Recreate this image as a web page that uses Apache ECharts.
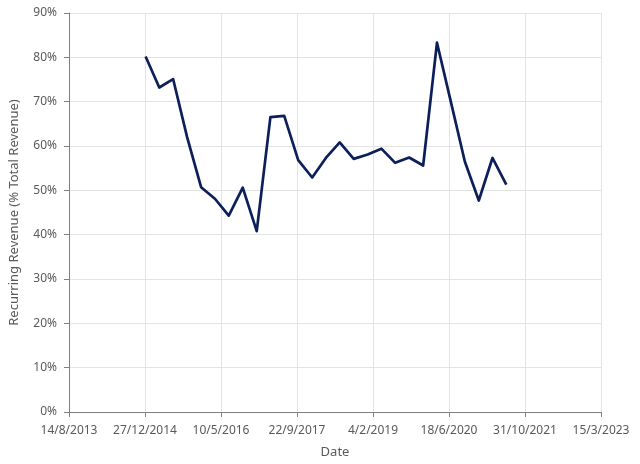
<!DOCTYPE html>
<html><head><meta charset="utf-8">
<script src="https://cdn.jsdelivr.net/npm/echarts@6/dist/echarts.min.js"></script>
<style>html,body{margin:0;padding:0;background:#fff}#c{width:640px;height:464px}</style>
</head><body><div id="c"></div>
<script>
const dates = ['2014-12-31','2015-03-31','2015-06-30','2015-09-30','2015-12-31','2016-03-31','2016-06-30','2016-09-30','2016-12-31','2017-03-31','2017-06-30','2017-09-30','2017-12-31','2018-03-31','2018-06-30','2018-09-30','2018-12-31','2019-03-31','2019-06-30','2019-09-30','2019-12-31','2020-03-31','2020-06-30','2020-09-30','2020-12-31','2021-03-31','2021-06-30'];
const recurringPct = [80.2,73.2,75.1,62.0,50.7,48.1,44.3,50.6,40.8,66.5,66.8,56.8,52.9,57.3,60.8,57.1,58.1,59.4,56.2,57.4,55.6,83.3,70.0,56.5,47.7,57.3,51.3];
const xTickLabels = ['14/8/2013','27/12/2014','10/5/2016','22/9/2017','4/2/2019','18/6/2020','31/10/2021','15/3/2023'];
const yTickLabels = ['0%','10%','20%','30%','40%','50%','60%','70%','80%','90%'];

function serial(s){const p=s.split('-').map(Number);return (Date.UTC(p[0],p[1]-1,p[2])-Date.UTC(1899,11,30))/86400000;}
const data = dates.map((d,i)=>[serial(d), recurringPct[i]]);
const X0 = 41500, XSTEP = 500;
const font = 'Noto Sans';
const chart = echarts.init(document.getElementById('c'));
chart.setOption({
  animation:false,
  grid:{left:68,right:39,top:13,bottom:51},
  xAxis:{type:'value',min:X0,max:X0+XSTEP*7,interval:XSTEP,
    name:'Date',nameLocation:'middle',nameGap:34,
    nameTextStyle:{color:'#595959',fontSize:13,fontFamily:font},
    axisLine:{lineStyle:{color:'#7f7f7f',width:1}},
    axisTick:{show:true,length:5,lineStyle:{color:'#7f7f7f'}},
    axisLabel:{color:'#595959',fontSize:12,fontFamily:font,margin:13,
      formatter:v=>xTickLabels[Math.round((v-X0)/XSTEP)]},
    splitLine:{show:true,lineStyle:{color:'#e3e3e3',width:1}}},
  yAxis:{type:'value',min:0,max:90,interval:10,
    name:'Recurring Revenue (% Total Revenue)',nameLocation:'middle',nameGap:48,
    nameTextStyle:{color:'#595959',fontSize:13,fontFamily:font},
    axisLine:{show:true,lineStyle:{color:'#7f7f7f',width:1}},
    axisTick:{show:true,length:5,lineStyle:{color:'#7f7f7f'}},
    axisLabel:{color:'#595959',fontSize:12,fontFamily:font,margin:12,
      formatter:v=>yTickLabels[Math.round(v/10)]},
    splitLine:{show:true,lineStyle:{color:'#e3e3e3',width:1}}},
  series:[{type:'line',data:data,symbol:'none',
    lineStyle:{color:'#0c1f5b',width:2.7,join:'round'}}]
});
</script></body></html>
